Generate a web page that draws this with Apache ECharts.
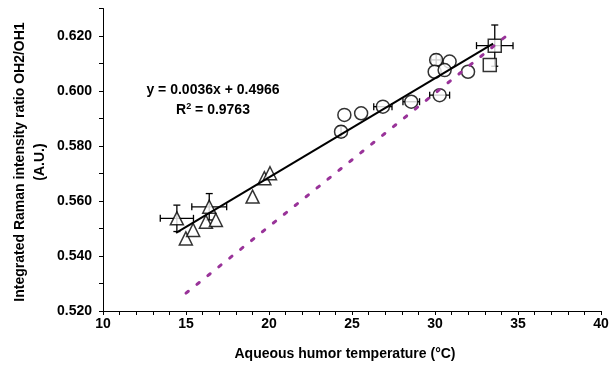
<!DOCTYPE html>
<html><head><meta charset="utf-8">
<script src="https://cdn.jsdelivr.net/npm/echarts@6/dist/echarts.min.js"></script>
<style>html,body{margin:0;padding:0;background:#fff}#c{width:616px;height:368px}</style>
</head><body><div id="c"></div>
<script>
// ---- data ----
const xTickLabels = [10, 15, 20, 25, 30, 35, 40];
const yTickLabels = [0.52, 0.54, 0.56, 0.58, 0.60, 0.62];
const xTitle = 'Aqueous humor temperature (°C)';
const yTitle1 = 'Integrated Raman intensity ratio OH2/OH1';
const yTitle2 = '(A.U.)';
const eqLine1 = 'y = 0.0036x + 0.4966';
const r2Value = '0.9763';

const triangles = [[14.45,0.5537],[14.99,0.5464],[15.43,0.5495],[16.40,0.5579],[16.20,0.5525],[16.80,0.5531],[19.01,0.5616],[19.72,0.5683],[20.06,0.5701]];
const circles = [[24.54,0.5913],[24.34,0.5852],[25.55,0.5919],[26.86,0.5943],[28.57,0.5961],[30.28,0.5985],[30.07,0.6113],[30.88,0.6107],[29.98,0.6070],[30.58,0.6076],[31.99,0.6070]];
const squares = [[33.60,0.6165],[33.30,0.6095]];
// [x, y, xError, yError]
const errorBars = [[14.45,0.5537,1.0,0.0048],[16.40,0.5579,1.05,0.0048],[24.34,0.5852,0,0.002],[26.86,0.5943,0.55,0],[28.57,0.5961,0.5,0],[30.28,0.5985,0.6,0],[30.07,0.6113,0.3,0.002],[33.60,0.6165,1.1,0.0075]];
const fitLine = [[14.4,0.5484],[33.5,0.6172]];
const refLine = [[15.0,0.5265],[34.5,0.6210]];

const chart = echarts.init(document.getElementById('c'), null, {renderer:'canvas'});
const FONT = 'Liberation Sans, Arial, sans-serif';
const mk = {color:'#fff', borderColor:'#000', borderWidth:1.5};
chart.setOption({
  animation:false,
  grid:{left:103, right:15, top:8.5, bottom:57},
  xAxis:{type:'value', min:10, max:40, interval:1,
    axisLine:{lineStyle:{color:'#000', width:1}},
    axisTick:{show:true, length:4, lineStyle:{color:'#000'}},
    splitLine:{show:false},
    axisLabel:{color:'#000', fontFamily:FONT, fontWeight:'bold', fontSize:14, margin:6,
      formatter:v => xTickLabels.includes(Math.round(v)) && Math.abs(v-Math.round(v))<1e-6 ? String(Math.round(v)) : ''}
  },
  yAxis:{type:'value', min:0.52, max:0.63, interval:0.01,
    axisLine:{show:true, lineStyle:{color:'#000', width:1}},
    axisTick:{show:true, length:4, lineStyle:{color:'#000'}},
    splitLine:{show:false},
    axisLabel:{color:'#000', fontFamily:FONT, fontWeight:'bold', fontSize:14, margin:11,
      formatter:v => { const t = yTickLabels.find(k => Math.abs(k-v)<1e-6); return t===undefined ? '' : t.toFixed(3); }}
  },
  series:[
    {type:'custom', z:2, data:errorBars, encode:{x:0,y:1},
      renderItem:function(params, api){
        const x=api.value(0), y=api.value(1), xe=api.value(2), ye=api.value(3);
        const ch=[]; const cap=3.5; const st={stroke:'#000', lineWidth:1.3};
        if (xe>0){
          const l=api.coord([x-xe,y]), r=api.coord([x+xe,y]);
          ch.push({type:'line', shape:{x1:l[0],y1:l[1],x2:r[0],y2:r[1]}, style:st});
          ch.push({type:'line', shape:{x1:l[0],y1:l[1]-cap,x2:l[0],y2:l[1]+cap}, style:st});
          ch.push({type:'line', shape:{x1:r[0],y1:r[1]-cap,x2:r[0],y2:r[1]+cap}, style:st});
        }
        if (ye>0){
          const t=api.coord([x,y+ye]), b=api.coord([x,y-ye]);
          ch.push({type:'line', shape:{x1:t[0],y1:t[1],x2:b[0],y2:b[1]}, style:st});
          ch.push({type:'line', shape:{x1:t[0]-cap,y1:t[1],x2:t[0]+cap,y2:t[1]}, style:st});
          ch.push({type:'line', shape:{x1:b[0]-cap,y1:b[1],x2:b[0]+cap,y2:b[1]}, style:st});
        }
        return {type:'group', children:ch};
      }},
    {type:'scatter', z:3, symbol:'triangle', symbolSize:13, data:triangles, itemStyle:mk},
    {type:'scatter', z:3, symbol:'circle', symbolSize:13, data:circles, itemStyle:mk},
    {type:'scatter', z:3, symbol:'rect', symbolSize:13, data:squares, itemStyle:mk},
    {type:'line', z:4, data:refLine, showSymbol:false, symbol:'none',
      lineStyle:{color:'#993399', width:3, type:[3,11], cap:'round'}},
    {type:'line', z:5, data:fitLine, showSymbol:false, symbol:'none',
      lineStyle:{color:'#000', width:2}}
  ],
  graphic:[
    {type:'text', x:345, y:354, style:{text:xTitle, fill:'#000', font:'bold 14px '+FONT, textAlign:'center', textVerticalAlign:'middle'}},
    {type:'text', x:20, y:162, rotation:Math.PI/2, style:{text:yTitle1, fill:'#000', font:'bold 14px '+FONT, textAlign:'center', textVerticalAlign:'middle'}},
    {type:'text', x:40, y:162, rotation:Math.PI/2, style:{text:yTitle2, fill:'#000', font:'bold 14px '+FONT, textAlign:'center', textVerticalAlign:'middle'}},
    {type:'text', x:213, y:90, style:{text:eqLine1, fill:'#000', font:'bold 14px '+FONT, textAlign:'center', textVerticalAlign:'middle'}},
    {type:'text', x:213, y:110, style:{text:'{a|R}{s|2}{a| = '+r2Value+'}', textAlign:'center', textVerticalAlign:'middle',
      rich:{a:{fill:'#000', font:'bold 14px '+FONT}, s:{fill:'#000', font:'bold 9px '+FONT, verticalAlign:'top', padding:[0,0,7,0]}}}}
  ]
});
</script>
</body></html>
